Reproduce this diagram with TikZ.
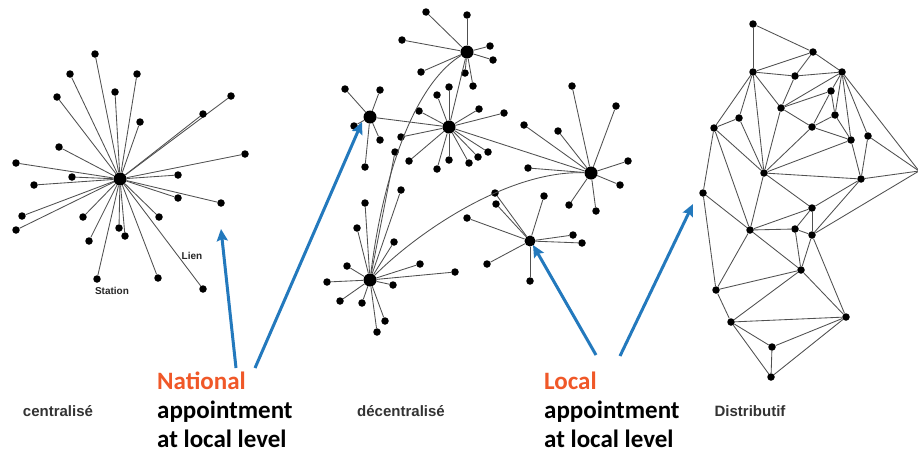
\documentclass[tikz,border=0pt]{standalone}
\usepackage{fontspec}
\setmainfont{Liberation Sans}
\newfontfamily\calib{Carlito}
\usetikzlibrary{arrows.meta}
\definecolor{arrblue}{RGB}{35,121,189}
\definecolor{natorange}{RGB}{240,88,40}
\definecolor{linkgray}{RGB}{80,80,80}
\begin{document}
\begin{tikzpicture}[x=1pt,y=-1pt,
 dot/.style={circle,fill=black,inner sep=0pt,minimum size=7.5pt},
 hub/.style={circle,fill=black,inner sep=0pt,minimum size=13pt},
 midhub/.style={circle,fill=black,inner sep=0pt,minimum size=11pt},
 link/.style={draw=linkgray,line width=0.85pt},
 bluearrow/.style={draw=arrblue,line width=3pt,-{Stealth[length=12pt,width=11pt,inset=2pt]}},
 big/.style={font=\calib\bfseries\fontsize{25}{29}\selectfont,anchor=base west,inner sep=0pt},
 lbl/.style={font=\bfseries\fontsize{15}{17}\selectfont,text=black!80,inner sep=0pt},
 tiny/.style={font=\bfseries\fontsize{10}{12}\selectfont,text=black!85,inner sep=0pt}]
\path[use as bounding box,fill=white] (0,0) rectangle (918,453);

% ---------------- centralise ----------------
\node[hub] (c0) at (120,179) {};
\foreach \x/\y [count=\i] in {95/54,70/74,137/74,115/92,57/97,231/96,203/114,140/122,59/147,245/154,16/163,72/177,178/175,34/185,178/198,221/203,22/216,83/217,159/217,16/230,119/228,125/236,89/241,97/279,158/278,203/289}{
  \node[dot] (c\i) at (\x,\y) {};
  \draw[link] (c0) -- (c\i);
}
\node[tiny] (lien) at (192,256) {Lien};
\node[tiny] (station) at (112,291) {Station};

% ---------------- decentralise ----------------
\node[hub] (h1) at (467,52) {};
\node[hub] (h2) at (370,117) {};
\node[hub] (h3) at (449,127) {};
\node[hub] (h4) at (591,173) {};
\node[hub] (h5) at (370,280) {};
\node[midhub] (h6) at (530,241) {};
\foreach \x/\y [count=\i] in {426/12,467/15,402/40,490/46,493/60,421/72,465/73,473/86}{
  \node[dot] (ha\i) at (\x,\y) {};
  \draw[link] (h1) -- (ha\i);
}
\foreach \x/\y [count=\i] in {345/89,380/90,354/126,380/140,365/167}{
  \node[dot] (hb\i) at (\x,\y) {};
  \draw[link] (h2) -- (hb\i);
}
\foreach \x/\y [count=\i] in {449/87,437/95,419/111,479/109,504/113,401/137,409/161,437/169,449/160,469/163,478/157,488/152}{
  \node[dot] (hc\i) at (\x,\y) {};
  \draw[link] (h3) -- (hc\i);
}
\foreach \x/\y [count=\i] in {572/86,616/106,524/125,558/131,528/168,628/161,620/185,569/205,596/211}{
  \node[dot] (hd\i) at (\x,\y) {};
  \draw[link] (h4) -- (hd\i);
}
\foreach \x/\y [count=\i] in {395/152,365/203,401/190,357/228,394/242,420/264,455/272,347/266,327/282,393/285,340/301,362/303,385/321,377/332}{
  \node[dot] (he\i) at (\x,\y) {};
  \draw[link] (h5) -- (he\i);
}
\foreach \x/\y [count=\i] in {495/193,496/204,544/196,467/218,573/235,582/243,487/264,530/281}{
  \node[dot] (hf\i) at (\x,\y) {};
  \draw[link] (h6) -- (hf\i);
}
\draw[link] (h2) -- (h3);
\draw[link] (h1) -- (h3);
\draw[link] (h3) -- (h4);
\draw[link] (h1) .. controls (420,80) and (385,160) .. (h5);
\draw[link] (h5) .. controls (420,230) and (510,170) .. (h4);

% ---------------- distributif ----------------
\foreach \n/\x/\y in {A/753/24,B/813/52,C/753/72,D/795/76,E/842/72,F/831/91,G/781/108,H/739/118,I/714/128,J/835/115,K/812/127,L/851/140,M/868/136,N/764/173,O/861/179,P/703/193,Q/812/208,R/812/235,S/750/230,T/795/229,U/801/270,V/716/290,W/731/322,X/846/317,Y/772/347,Z/771/377}{
  \node[dot] (d\n) at (\x,\y) {};
}
\coordinate (dEdge) at (919,171);
\foreach \a/\b in {A/B,A/C,C/B,C/D,D/B,B/E,D/E,D/G,C/G,C/H,C/I,C/N,H/I,H/N,I/N,I/P,I/S,G/E,G/F,G/K,G/N,E/F,E/J,E/L,E/M,E/Edge,F/J,F/K,J/K,J/L,K/L,K/N,N/L,N/O,L/O,M/O,M/Edge,O/Edge,N/S,N/Q,P/S,P/V,S/T,S/Q,S/U,S/V,T/Q,T/R,T/U,Q/R,R/U,R/X,U/V,U/W,U/X,V/W,W/X,W/Y,W/Z,Y/X,Y/Z,Z/X,Q/O,R/O,R/Edge}{
  \draw[link] (d\a) -- (d\b);
}

% ---------------- labels ----------------
\node[lbl] (lc) at (58,411) {centralisé};
\node[lbl] (ld) at (401,411) {décentralisé};
\node[lbl] (lx) at (750,411) {Distributif};

\node[big,text=natorange] (nat1) at (157,389) {National};
\node[big] (nat2) at (157,418) {appointment};
\node[big] (nat3) at (157,447) {at local level};
\node[big,text=natorange] (loc1) at (544,389) {Local};
\node[big] (loc2) at (544,418) {appointment};
\node[big] (loc3) at (544,447) {at local level};

% ---------------- blue arrows ----------------
\coordinate (a1s) at (236,368); \coordinate (a1e) at (221,229);
\coordinate (a2s) at (255,368); \coordinate (a2e) at (362,122);
\coordinate (a3s) at (596,355); \coordinate (a3e) at (533,245);
\coordinate (a4s) at (620,356); \coordinate (a4e) at (693,204);
\draw[bluearrow] (a1s) -- (a1e);
\draw[bluearrow] (a2s) -- (a2e);
\draw[bluearrow] (a3s) -- (a3e);
\draw[bluearrow] (a4s) -- (a4e);
\end{tikzpicture}
\end{document}
